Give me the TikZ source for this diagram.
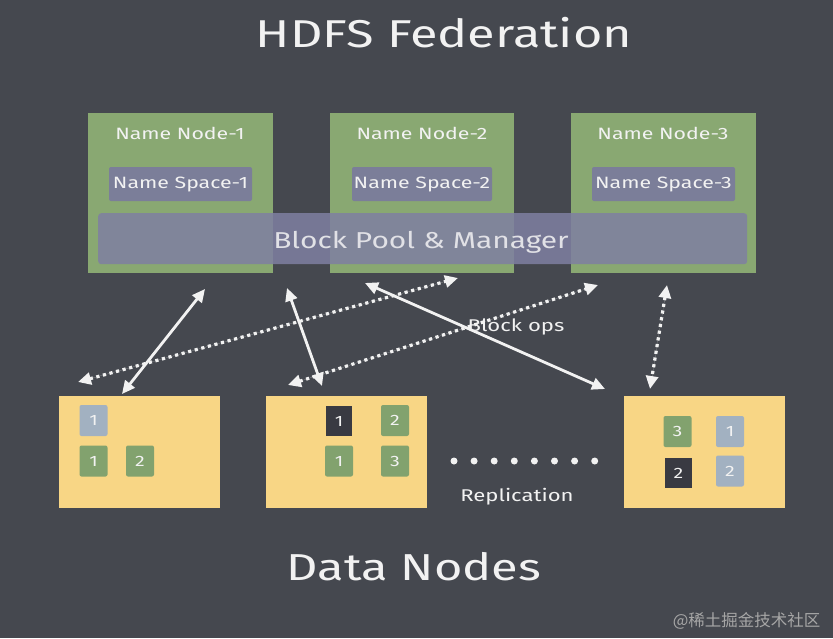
\documentclass[tikz,border=0pt]{standalone}
\usepackage{fontspec}
\setmainfont{Fira Sans}
\newfontfamily\chalkwide{Fira Sans}[FakeStretch=1.3]
\newfontfamily\cjkfont{Noto Sans CJK SC}
\usetikzlibrary{arrows.meta}
\definecolor{board}{HTML}{45484F}
\definecolor{nngreen}{HTML}{89A872}
\definecolor{nspurple}{HTML}{7B7E99}
\definecolor{poolpurple}{HTML}{7F80A2}
\definecolor{dnyellow}{HTML}{F8D685}
\definecolor{blkblue}{HTML}{A2B1C1}
\definecolor{blkgreen}{HTML}{82A26E}
\definecolor{blkdark}{HTML}{393A42}
\definecolor{chalk}{HTML}{F2F2F2}
\tikzset{
  namenode/.style={fill=nngreen, draw=none},
  nspace/.style={fill=nspurple, rounded corners=2pt, text=chalk, font=\chalkwide\fontsize{16.4}{18}\selectfont},
  nnlabel/.style={text=chalk, font=\chalkwide\fontsize{16.4}{18}\selectfont},
  datanode/.style={fill=dnyellow, draw=none},
  blk/.style={minimum width=28pt, minimum height=31pt, inner sep=0pt, rounded corners=2pt, text=chalk, font=\chalkwide\fontsize{15}{17}\selectfont},
  bblue/.style={blk, fill=blkblue},
  bgreen/.style={blk, fill=blkgreen},
  bdark/.style={blk, fill=blkdark, rounded corners=0pt},
  arr/.style={draw=chalk, line width=2.8pt, {Triangle[length=13pt,width=12pt]}-{Triangle[length=13pt,width=12pt]}, fill=chalk},
  darr/.style={arr, line width=3.2pt, dash pattern=on 3.2pt off 3.6pt},
  dotc/.style={circle, fill=chalk, minimum size=7pt, inner sep=0pt},
  lbl/.style={text=chalk, font=\chalkwide\fontsize{17}{19}\selectfont},
}
\begin{document}
\begin{tikzpicture}[x=1pt,y=-1pt]
\fill[board] (0,0) rectangle (833,638);
\useasboundingbox (0,0) rectangle (833,638);

\node[text=chalk, font=\chalkwide\fontsize{38.8}{44}\selectfont] (title) at (444,33) {HDFS Federation};

% name nodes
\path[namenode] (88,113) rectangle (273,273);
\path[namenode] (330,113) rectangle (514,273);
\path[namenode] (571,113) rectangle (756,273);
\node[nnlabel] (nn1) at (180,133) {Name Node-1};
\node[nnlabel] (nn2) at (422,133) {Name Node-2};
\node[nnlabel] (nn3) at (663,133) {Name Node-3};
\node[nspace, minimum width=143pt, minimum height=34pt, inner sep=0pt] (ns1) at (180.5,184) {Name Space-1};
\node[nspace, minimum width=140pt, minimum height=34pt, inner sep=0pt] (ns2) at (422,184) {Name Space-2};
\node[nspace, minimum width=143pt, minimum height=34pt, inner sep=0pt] (ns3) at (663.5,184) {Name Space-3};

% block pool
\node[fill=poolpurple, fill opacity=0.85, rounded corners=3pt,
      minimum width=649pt, minimum height=51pt, inner sep=0pt, anchor=north west] (pool) at (98,213) {};
\node[text=chalk!85!poolpurple, font=\chalkwide\fontsize{23}{25}\selectfont] (poollbl) at (421,242) {Block Pool \& Manager};

% data nodes
\path[datanode] (59,396) rectangle (220,508);
\path[datanode] (266,396) rectangle (427,508);
\path[datanode] (624,396) rectangle (785,508);

% blocks
\node[bblue]  (d1a) at (93.5,420.5) {1};
\node[bgreen] (d1b) at (93.5,461) {1};
\node[bgreen] (d1c) at (140,461) {2};
\node[bdark, minimum width=26pt, minimum height=30pt] (d2a) at (339,421) {1};
\node[bgreen] (d2b) at (395,420.5) {2};
\node[bgreen] (d2c) at (339,461) {1};
\node[bgreen] (d2d) at (395,461) {3};
\node[bgreen] (d3a) at (677.5,431.5) {3};
\node[bblue]  (d3b) at (730,431.5) {1};
\node[bdark, minimum width=27pt, minimum height=30pt] (d3c) at (678.5,473) {2};
\node[bblue]  (d3d) at (730,471) {2};

% dots
\foreach \i in {0,...,7} {
  \node[dotc] (dot\i) at (454+\i*20.1,461) {};
}

% labels
\node[lbl] (blockops) at (516,327) {Block ops};
\node[lbl] (repl) at (517,497) {Replication};
\node[text=chalk, font=\chalkwide\fontsize{37.5}{42}\selectfont] (dn) at (414,567) {Data Nodes};
\node[text=gray!70, font=\cjkfont\fontsize{16.5}{18}\selectfont, anchor=east] (wm) at (824,621) {@稀土掘金技术社区};

% arrow endpoints
\coordinate (s1a) at (205,289);
\coordinate (s1b) at (122,394);
\coordinate (s2a) at (287,288);
\coordinate (s2b) at (322,386);
\coordinate (s3a) at (365,283);
\coordinate (s3b) at (605,389);
\coordinate (p1a) at (78,382);
\coordinate (p1b) at (458,278);
\coordinate (p2a) at (288,385);
\coordinate (p2b) at (598,285);
\coordinate (p3a) at (667,285);
\coordinate (p3b) at (650,389);

\draw[arr] (s1a) -- (s1b);
\draw[arr] (s2a) -- (s2b);
\draw[arr] (s3a) -- (s3b);
\draw[darr] (p1a) -- (p1b);
\draw[darr] (p2a) -- (p2b);
\draw[darr] (p3a) -- (p3b);
\end{tikzpicture}
\end{document}
